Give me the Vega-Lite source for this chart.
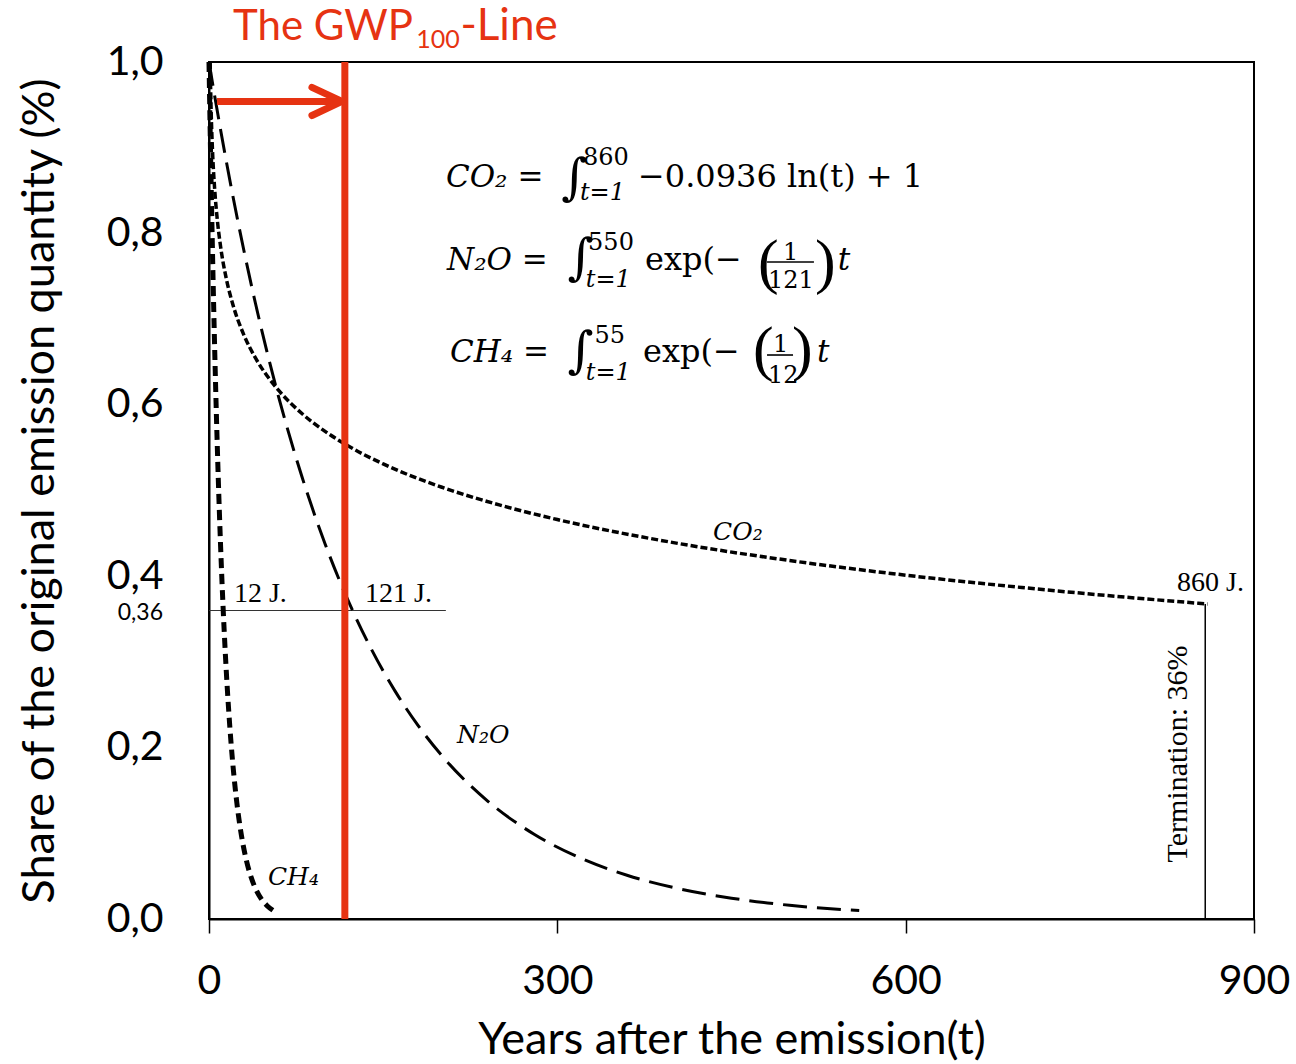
{
  "$schema": "https://vega.github.io/schema/vega-lite/v6.json",
  "width": 1045,
  "height": 857,
  "autosize": {"type": "none"},
  "padding": {"left": 209, "top": 62, "right": 42, "bottom": 145},
  "background": "white",
  "config": {
    "view": {"stroke": "black", "strokeWidth": 2},
    "axis": {"grid": false, "domainColor": "black", "domainWidth": 2, "labelColor": "black", "titleColor": "black", "labelFont": "Lato", "titleFont": "Lato", "titleFontWeight": "normal"}
  },
  "datasets": {
    "curves": [
      {"gas": "CO2", "t": 1, "share": 1.0},
      {"gas": "CO2", "t": 1.5, "share": 0.962},
      {"gas": "CO2", "t": 2, "share": 0.9351},
      {"gas": "CO2", "t": 3, "share": 0.8972},
      {"gas": "CO2", "t": 5, "share": 0.8494},
      {"gas": "CO2", "t": 7, "share": 0.8179},
      {"gas": "CO2", "t": 10, "share": 0.7845},
      {"gas": "CO2", "t": 15, "share": 0.7465},
      {"gas": "CO2", "t": 20, "share": 0.7196},
      {"gas": "CO2", "t": 30, "share": 0.6816},
      {"gas": "CO2", "t": 40, "share": 0.6547},
      {"gas": "CO2", "t": 50, "share": 0.6338},
      {"gas": "CO2", "t": 60, "share": 0.6168},
      {"gas": "CO2", "t": 80, "share": 0.5898},
      {"gas": "CO2", "t": 100, "share": 0.569},
      {"gas": "CO2", "t": 120, "share": 0.5519},
      {"gas": "CO2", "t": 150, "share": 0.531},
      {"gas": "CO2", "t": 200, "share": 0.5041},
      {"gas": "CO2", "t": 250, "share": 0.4832},
      {"gas": "CO2", "t": 300, "share": 0.4661},
      {"gas": "CO2", "t": 400, "share": 0.4392},
      {"gas": "CO2", "t": 500, "share": 0.4183},
      {"gas": "CO2", "t": 600, "share": 0.4012},
      {"gas": "CO2", "t": 700, "share": 0.3868},
      {"gas": "CO2", "t": 800, "share": 0.3743},
      {"gas": "CO2", "t": 860, "share": 0.3676},
      {"gas": "N2O", "t": 0, "share": 1.0},
      {"gas": "N2O", "t": 5, "share": 0.9595},
      {"gas": "N2O", "t": 10, "share": 0.9207},
      {"gas": "N2O", "t": 20, "share": 0.8476},
      {"gas": "N2O", "t": 30, "share": 0.7804},
      {"gas": "N2O", "t": 40, "share": 0.7185},
      {"gas": "N2O", "t": 50, "share": 0.6615},
      {"gas": "N2O", "t": 60, "share": 0.609},
      {"gas": "N2O", "t": 80, "share": 0.5163},
      {"gas": "N2O", "t": 100, "share": 0.4376},
      {"gas": "N2O", "t": 121, "share": 0.3679},
      {"gas": "N2O", "t": 140, "share": 0.3144},
      {"gas": "N2O", "t": 160, "share": 0.2665},
      {"gas": "N2O", "t": 180, "share": 0.2259},
      {"gas": "N2O", "t": 200, "share": 0.1915},
      {"gas": "N2O", "t": 240, "share": 0.1376},
      {"gas": "N2O", "t": 280, "share": 0.0989},
      {"gas": "N2O", "t": 320, "share": 0.071},
      {"gas": "N2O", "t": 360, "share": 0.051},
      {"gas": "N2O", "t": 400, "share": 0.0367},
      {"gas": "N2O", "t": 450, "share": 0.0243},
      {"gas": "N2O", "t": 500, "share": 0.016},
      {"gas": "N2O", "t": 560, "share": 0.0098},
      {"gas": "CH4", "t": 0, "share": 1.0},
      {"gas": "CH4", "t": 1, "share": 0.92},
      {"gas": "CH4", "t": 2, "share": 0.8465},
      {"gas": "CH4", "t": 3, "share": 0.7788},
      {"gas": "CH4", "t": 4, "share": 0.7165},
      {"gas": "CH4", "t": 6, "share": 0.6065},
      {"gas": "CH4", "t": 8, "share": 0.5134},
      {"gas": "CH4", "t": 10, "share": 0.4346},
      {"gas": "CH4", "t": 12, "share": 0.3679},
      {"gas": "CH4", "t": 14, "share": 0.3114},
      {"gas": "CH4", "t": 16, "share": 0.2636},
      {"gas": "CH4", "t": 18, "share": 0.2231},
      {"gas": "CH4", "t": 20, "share": 0.1889},
      {"gas": "CH4", "t": 24, "share": 0.1353},
      {"gas": "CH4", "t": 28, "share": 0.097},
      {"gas": "CH4", "t": 32, "share": 0.0695},
      {"gas": "CH4", "t": 36, "share": 0.0498},
      {"gas": "CH4", "t": 40, "share": 0.0357},
      {"gas": "CH4", "t": 45, "share": 0.0235},
      {"gas": "CH4", "t": 50, "share": 0.0155},
      {"gas": "CH4", "t": 55, "share": 0.0102}
    ],
    "mathItalic": [
      {"t": 204.1, "share": 0.8541, "label": "CO₂ ="},
      {"t": 205.0, "share": 0.7573, "label": "N₂O ="},
      {"t": 207.6, "share": 0.6499, "label": "CH₄ ="},
      {"t": 541.5, "share": 0.7573, "label": "t"},
      {"t": 523.6, "share": 0.6499, "label": "t"}
    ],
    "mathRoman": [
      {"t": 369.5, "share": 0.8541, "label": "−0.0936 ln(t) + 1"},
      {"t": 375.5, "share": 0.7573, "label": "exp(−"},
      {"t": 373.8, "share": 0.6499, "label": "exp(−"}
    ],
    "mathSmall": [
      {"t": 322.0, "share": 0.8798, "label": "860"},
      {"t": 326.5, "share": 0.7806, "label": "550"},
      {"t": 332.0, "share": 0.6721, "label": "55"},
      {"t": 494.4, "share": 0.769, "label": "1"},
      {"t": 481.4, "share": 0.7363, "label": "121"},
      {"t": 485.7, "share": 0.6616, "label": "1"},
      {"t": 481.4, "share": 0.6254, "label": "12"}
    ],
    "mathSmallItalic": [
      {"t": 319.5, "share": 0.839, "label": "t=1"},
      {"t": 324.5, "share": 0.7375, "label": "t=1"},
      {"t": 324.5, "share": 0.6289, "label": "t=1"}
    ],
    "integrals": [
      {"t": 303.5, "share": 0.846, "label": "∫"},
      {"t": 309.0, "share": 0.7526, "label": "∫"},
      {"t": 309.0, "share": 0.6441, "label": "∫"}
    ],
    "parens": [
      {"t": 472.8, "share": 0.7433, "label": "("},
      {"t": 521.9, "share": 0.7433, "label": ")"},
      {"t": 468.5, "share": 0.6418, "label": "("},
      {"t": 502.1, "share": 0.6418, "label": ")"}
    ],
    "fracBars": [
      {"t": 480.6, "t2": 521.0, "share": 0.7666},
      {"t": 480.6, "t2": 503.0, "share": 0.6581}
    ],
    "jLabels": [
      {"t": 21.5, "share": 0.37, "label": "12 J."},
      {"t": 134.4, "share": 0.37, "label": "121 J."},
      {"t": 833.7, "share": 0.3827, "label": "860 J."}
    ],
    "gasLabels": [
      {"t": 434.1, "share": 0.4422, "label": "CO₂"},
      {"t": 213.6, "share": 0.2054, "label": "N₂O"},
      {"t": 50.8, "share": 0.0397, "label": "CH₄"}
    ]
  },
  "encoding": {
    "x": {"type": "quantitative", "scale": {"domain": [0, 900], "nice": false, "zero": false}},
    "y": {"type": "quantitative", "scale": {"domain": [0, 1], "nice": false}}
  },
  "layer": [
    {
      "data": {"values": [{"t0": 0, "t1": 204, "v": 0.36}]},
      "mark": {"type": "rule", "stroke": "#333333", "strokeWidth": 1.2},
      "encoding": {
        "x": {"field": "t0", "type": "quantitative",
          "axis": {"values": [0, 300, 600, 900], "labelFlush": false, "title": "Years after the emission(t)", "labelFontSize": 41, "tickSize": 14, "tickWidth": 1.5, "tickColor": "black", "labelPadding": 28, "titleFontSize": 45, "titlePadding": 16}},
        "x2": {"field": "t1"},
        "y": {"field": "v", "type": "quantitative",
          "axis": {"values": [0, 0.2, 0.4, 0.6, 0.8, 1.0], "labelFlush": false, "labelExpr": "replace(format(datum.value, '.1f'), '.', ',')", "ticks": false, "labelPadding": 46, "labelFontSize": 41, "title": "Share of the original emission quantity (%)", "titleFontSize": 45, "titlePadding": 44}}
      }
    },
    {
      "data": {"values": [{"t": 858, "v0": 0, "v1": 0.3676}]},
      "mark": {"type": "rule", "stroke": "black", "strokeWidth": 1.5},
      "encoding": {"x": {"field": "t", "type": "quantitative"}, "y": {"field": "v0", "type": "quantitative"}, "y2": {"field": "v1"}}
    },
    {
      "data": {"name": "curves"},
      "transform": [{"filter": "datum.gas === 'CO2'"}],
      "mark": {"type": "line", "interpolate": "monotone", "color": "black", "strokeCap": "butt", "strokeWidth": 3.5, "strokeDash": [7, 3]},
      "encoding": {"x": {"field": "t", "type": "quantitative"}, "y": {"field": "share", "type": "quantitative"}}
    },
    {
      "data": {"name": "curves"},
      "transform": [{"filter": "datum.gas === 'N2O'"}],
      "mark": {"type": "line", "interpolate": "monotone", "color": "black", "strokeCap": "butt", "strokeWidth": 3, "strokeDash": [24, 10]},
      "encoding": {"x": {"field": "t", "type": "quantitative"}, "y": {"field": "share", "type": "quantitative"}}
    },
    {
      "data": {"name": "curves"},
      "transform": [{"filter": "datum.gas === 'CH4'"}],
      "mark": {"type": "line", "interpolate": "monotone", "color": "black", "strokeCap": "butt", "strokeWidth": 5, "strokeDash": [10, 6]},
      "encoding": {"x": {"field": "t", "type": "quantitative"}, "y": {"field": "share", "type": "quantitative"}}
    },
    {
      "data": {"values": [{"t": 117, "v0": 0, "v1": 1}]},
      "mark": {"type": "rule", "stroke": "#E63312", "strokeWidth": 7},
      "encoding": {"x": {"field": "t", "type": "quantitative"}, "y": {"field": "v0", "type": "quantitative"}, "y2": {"field": "v1"}}
    },
    {
      "data": {"values": [{"t0": 6.9, "t1": 112, "v": 0.954}]},
      "mark": {"type": "rule", "stroke": "#E63312", "strokeWidth": 7},
      "encoding": {"x": {"field": "t0", "type": "quantitative"}, "x2": {"field": "t1"}, "y": {"field": "v", "type": "quantitative"}}
    },
    {
      "data": {"values": [{"t": 114.5, "v": 0.954}]},
      "mark": {"type": "point", "shape": "M-1,-0.47L0,0L-1,0.47", "size": 3600, "filled": false, "stroke": "#E63312", "strokeWidth": 7, "strokeCap": "round", "strokeJoin": "round", "opacity": 1},
      "encoding": {"x": {"field": "t", "type": "quantitative"}, "y": {"field": "v", "type": "quantitative"}}
    },
    {
      "data": {"values": [{"t": 20.7, "v": 1.0257, "label": "The GWP"}]},
      "mark": {"type": "text", "font": "Lato", "fontSize": 42, "color": "#E63312", "align": "left", "baseline": "alphabetic"},
      "encoding": {"x": {"field": "t", "type": "quantitative"}, "y": {"field": "v", "type": "quantitative"}, "text": {"field": "label"}}
    },
    {
      "data": {"values": [{"t": 216.5, "v": 1.0257, "label": "-Line"}]},
      "mark": {"type": "text", "font": "Lato", "fontSize": 44, "color": "#E63312", "align": "left", "baseline": "alphabetic"},
      "encoding": {"x": {"field": "t", "type": "quantitative"}, "y": {"field": "v", "type": "quantitative"}, "text": {"field": "label"}}
    },
    {
      "data": {"values": [{"t": 178.5, "v": 1.0163, "label": "100"}]},
      "mark": {"type": "text", "font": "Lato", "fontSize": 25, "color": "#E63312", "align": "left", "baseline": "alphabetic"},
      "encoding": {"x": {"field": "t", "type": "quantitative"}, "y": {"field": "v", "type": "quantitative"}, "text": {"field": "label"}}
    },
    {
      "data": {"values": [{"t": -39.6, "v": 0.357, "label": "0,36"}]},
      "mark": {"type": "text", "font": "Lato", "fontSize": 23, "color": "black", "align": "right", "baseline": "middle"},
      "encoding": {"x": {"field": "t", "type": "quantitative"}, "y": {"field": "v", "type": "quantitative"}, "text": {"field": "label"}}
    },
    {
      "data": {"name": "mathItalic"},
      "mark": {"type": "text", "font": "DejaVu Serif", "fontStyle": "italic", "fontSize": 31, "align": "left", "baseline": "alphabetic", "color": "black"},
      "encoding": {"x": {"field": "t", "type": "quantitative"}, "y": {"field": "share", "type": "quantitative"}, "text": {"field": "label"}}
    },
    {
      "data": {"name": "mathRoman"},
      "mark": {"type": "text", "font": "DejaVu Serif", "fontSize": 32, "align": "left", "baseline": "alphabetic", "color": "black"},
      "encoding": {"x": {"field": "t", "type": "quantitative"}, "y": {"field": "share", "type": "quantitative"}, "text": {"field": "label"}}
    },
    {
      "data": {"name": "mathSmall"},
      "mark": {"type": "text", "font": "DejaVu Serif", "fontSize": 24, "align": "left", "baseline": "alphabetic", "color": "black"},
      "encoding": {"x": {"field": "t", "type": "quantitative"}, "y": {"field": "share", "type": "quantitative"}, "text": {"field": "label"}}
    },
    {
      "data": {"name": "mathSmallItalic"},
      "mark": {"type": "text", "font": "DejaVu Serif", "fontStyle": "italic", "fontSize": 24, "align": "left", "baseline": "alphabetic", "color": "black"},
      "encoding": {"x": {"field": "t", "type": "quantitative"}, "y": {"field": "share", "type": "quantitative"}, "text": {"field": "label"}}
    },
    {
      "data": {"name": "integrals"},
      "mark": {"type": "text", "font": "DejaVu Serif", "fontSize": 50, "align": "left", "baseline": "alphabetic", "color": "black"},
      "encoding": {"x": {"field": "t", "type": "quantitative"}, "y": {"field": "share", "type": "quantitative"}, "text": {"field": "label"}}
    },
    {
      "data": {"name": "parens"},
      "mark": {"type": "text", "font": "Liberation Serif", "fontSize": 62, "align": "left", "baseline": "alphabetic", "color": "black"},
      "encoding": {"x": {"field": "t", "type": "quantitative"}, "y": {"field": "share", "type": "quantitative"}, "text": {"field": "label"}}
    },
    {
      "data": {"name": "fracBars"},
      "mark": {"type": "rule", "stroke": "black", "strokeWidth": 1.6},
      "encoding": {"x": {"field": "t", "type": "quantitative"}, "x2": {"field": "t2"}, "y": {"field": "share", "type": "quantitative"}}
    },
    {
      "data": {"name": "jLabels"},
      "mark": {"type": "text", "font": "Liberation Serif", "fontSize": 28, "align": "left", "baseline": "alphabetic", "color": "black"},
      "encoding": {"x": {"field": "t", "type": "quantitative"}, "y": {"field": "share", "type": "quantitative"}, "text": {"field": "label"}}
    },
    {
      "data": {"name": "gasLabels"},
      "mark": {"type": "text", "font": "DejaVu Serif", "fontStyle": "italic", "fontSize": 25, "align": "left", "baseline": "alphabetic", "color": "black"},
      "encoding": {"x": {"field": "t", "type": "quantitative"}, "y": {"field": "share", "type": "quantitative"}, "text": {"field": "label"}}
    },
    {
      "data": {"values": [{"t": 834.5, "share": 0.1925, "label": "Termination: 36%"}]},
      "mark": {"type": "text", "font": "Liberation Serif", "fontSize": 30, "angle": 270, "align": "center", "baseline": "middle", "color": "black"},
      "encoding": {"x": {"field": "t", "type": "quantitative"}, "y": {"field": "share", "type": "quantitative"}, "text": {"field": "label"}}
    }
  ]
}
